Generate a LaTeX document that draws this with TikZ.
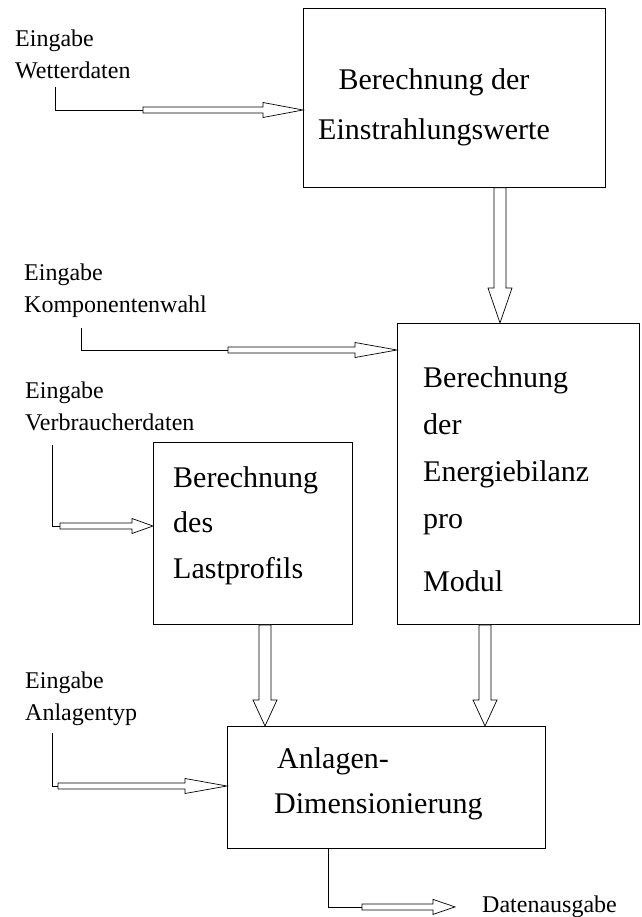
\documentclass[tikz,border=0pt]{standalone}
\usepackage{fontspec}
\setmainfont{Liberation Serif}
\usepackage{tikz}
\usetikzlibrary{calc,positioning}

% hollow (outlined) arrows: [head length]{start}{tip}
\newcommand{\hollowright}[3][40]{%
  \draw[hollow] ($(#2)+(0,-3)$) -- ($(#3)+(-#1,-3)$) -- ($(#3)+(-#1,-7.5)$) -- (#3)
    -- ($(#3)+(-#1,7.5)$) -- ($(#3)+(-#1,3)$) -- ($(#2)+(0,3)$) -- cycle;}
\newcommand{\hollowdown}[3][30]{%
  \draw[hollow] ($(#2)+(-6,0)$) -- ($(#3)+(-6,-#1)$) -- ($(#3)+(-12,-#1)$) -- (#3)
    -- ($(#3)+(12,-#1)$) -- ($(#3)+(6,-#1)$) -- ($(#2)+(6,0)$) -- cycle;}

\begin{document}
\begin{tikzpicture}[
  x=1pt, y=-1pt,
  box/.style={draw, line width=0.9pt, anchor=north west, inner sep=0pt},
  boxtext/.style={anchor=base west, align=left, inner sep=0pt,
    font=\fontsize{30}{47}\selectfont},
  intext/.style={anchor=base west, align=left, inner sep=0pt,
    font=\fontsize{24}{32}\selectfont},
  conn/.style={line width=0.6pt},
  hollow/.style={line width=0.7pt, fill=white, line join=miter}
]
\useasboundingbox (0,0) rectangle (641,917);

% boxes (text nodes sit on the baseline of their last line)
\node[box, minimum width=302pt, minimum height=179pt] (einstr) at (303,8) {};
\node[boxtext, anchor=base, align=center] (einstrtxt) at ($(einstr.north west)+(131,132)$)
  {Berechnung der\\[3pt]Einstrahlungswerte};
\node[box, minimum width=242pt, minimum height=301pt] (bilanz) at (397,323) {};
\node[boxtext] (bilanztxt) at ($(bilanz.north west)+(26,268)$)
  {Berechnung\\der\\Energiebilanz\\pro\\[16pt]Modul};
\node[box, minimum width=199pt, minimum height=182pt] (last) at (153,442) {};
\node[boxtext, font=\fontsize{30}{45.5}\selectfont] (lasttxt) at ($(last.north west)+(20,136)$)
  {Berechnung\\des\\Lastprofils};
\node[box, minimum width=318pt, minimum height=122pt] (dimens) at (227,726) {};
\node[boxtext] (dimenstxt) at ($(dimens.north west)+(47,87)$)
  {\hspace*{3pt}Anlagen-\\[-2pt]Dimensionierung};

% inputs and output
\node[intext] (inWetter) at (15,79) {Eingabe\\Wetterdaten};
\node[intext] (inKomp) at (24,312) {Eingabe\\Komponentenwahl};
\node[intext] (inVerbr) at (25,430) {Eingabe\\Verbraucherdaten};
\node[intext] (inAnl) at (25,720) {Eingabe\\Anlagentyp};
\node[intext] (outDaten) at (482,912) {Datenausgabe};

% Wetterdaten
\coordinate (w0) at (55,87);
\coordinate (w1) at (143,110);
\coordinate (w2) at (einstr.west |- w1);
\draw[conn] (w0) |- (w1);
\hollowright{w1}{w2}

% Komponentenwahl
\coordinate (k0) at (81,328);
\coordinate (k1) at (228,350);
\coordinate (k2) at (bilanz.west |- k1);
\draw[conn] (k0) |- (k1);
\hollowright[42]{k1}{k2}

% Verbraucherdaten
\coordinate (v0) at (52,445);
\coordinate (v1) at (60,526);
\coordinate (v2) at (last.west |- v1);
\draw[conn] (v0) |- (v1);
\hollowright[21]{v1}{v2}

% Anlagentyp
\coordinate (a0) at (52,733);
\coordinate (a1) at (58,786);
\coordinate (a2) at (dimens.west |- a1);
\draw[conn] (a0) |- (a1);
\hollowright[42]{a1}{a2}

% box to box
\coordinate (e1) at ($(einstr.south west)+(197,0)$);
\coordinate (e2) at (e1 |- bilanz.north);
\hollowdown[35]{e1}{e2}
\coordinate (l1) at ($(last.south west)+(112,0)$);
\coordinate (l2) at (l1 |- dimens.north);
\hollowdown[26]{l1}{l2}
\coordinate (b1) at ($(bilanz.south west)+(88,0)$);
\coordinate (b2) at (b1 |- dimens.north);
\hollowdown[26]{b1}{b2}

% Datenausgabe
\coordinate (d0) at ($(dimens.south west)+(101,0)$);
\coordinate (d1) at ($(d0)+(34,58)$);
\coordinate (d2) at ($(d1)+(93,0)$);
\draw[conn] (d0) |- (d1);
\hollowright[22]{d1}{d2}
\end{tikzpicture}
\end{document}
